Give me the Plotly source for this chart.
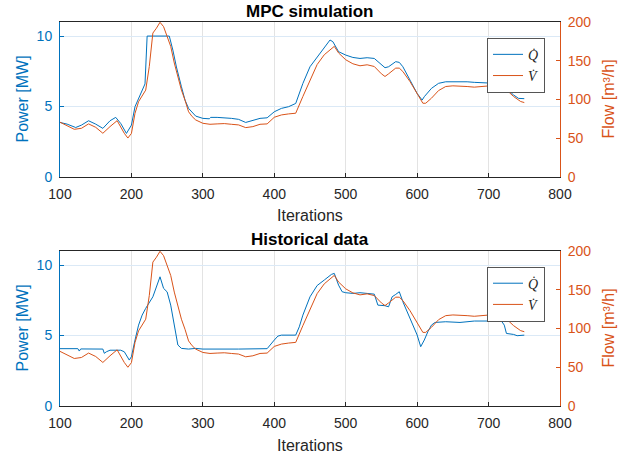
import plotly.graph_objects as go

# ---------------- data ----------------
# MPC simulation: heat power Q-dot [MW]
mpc_x = [100,110,122,130,140,150,160,170,178,185,193,200,205,210,215,219,222,253,258,263,270,275,280,290,300,309,311,320,340,350,360,370,380,390,400,410,420,430,440,450,460,470,478,482,490,500,510,520,530,540,550,555,560,570,575,580,590,600,607,610,620,630,640,650,660,670,680,690,700,710,718,725,735,742,750]
mpc_q = [3.86,3.74,3.5,3.67,3.98,3.74,3.44,3.98,4.22,3.79,3.08,3.67,4.98,5.57,6.04,6.6,10,10,9.0,7.8,6.4,5.45,4.86,4.31,4.15,4.12,4.22,4.22,4.15,4.08,3.86,3.98,4.15,4.19,4.62,4.86,4.98,5.21,6.63,7.82,8.5,9.24,9.72,9.6,8.89,8.65,8.48,8.41,8.46,8.41,7.94,7.75,7.82,8.18,8.13,7.82,6.87,5.92,5.45,5.69,6.28,6.64,6.75,6.75,6.8,6.75,6.71,6.68,6.68,6.64,6.68,6.28,5.81,5.57,5.55]

# Flow V-dot [m3/h] (same in both panels)
flow_x = [100,110,120,130,140,150,160,170,180,190,195,200,205,210,220,225,230,235,240,245,250,255,260,265,270,275,280,285,290,300,310,320,330,340,350,360,370,380,390,400,410,420,430,440,450,460,470,480,484,490,500,510,520,530,540,550,555,560,570,575,580,590,600,608,612,620,630,640,650,660,670,680,690,700,710,718,725,735,745,750]
flow_v = [70.5,65.7,61.3,62.6,68.3,63.9,56.2,64.8,72.5,56.2,50,56,82,97,112,142.5,185.7,192,199.6,194,181,168.5,147,130,112,99,84,77.8,73.4,69.1,67.8,68.3,68.7,67.8,67,63.5,64.8,67.8,68.3,76.9,79.9,81.2,82.1,103.7,125.3,145,157.7,166.3,168.5,160,151.2,146,143.4,144.7,142.5,133,129.6,133,140.4,140.4,136,123,108,95,95,101.5,111.4,116.6,117.5,117.5,116.6,115.8,116.6,116.6,117.5,118.8,112.3,103.7,97.2,95.9]

# Historical data: heat power Q-dot [MW]
hist_x = [100,125,127,129,160,162,165,170,185,190,197,200,205,210,215,220,230,237,240,245,250,255,260,265,270,280,290,300,350,390,400,405,410,430,435,440,450,460,470,480,484,490,495,500,510,520,530,540,545,555,560,565,570,575,580,590,600,605,610,615,620,625,640,660,680,700,718,722,725,735,740,750]
hist_q = [4.07,4.07,3.9,4.05,4.04,3.74,3.85,3.96,3.96,3.85,3.26,3.5,4.68,5.74,6.45,6.93,7.75,8.7,9.17,8.35,8.1,7.16,5.74,4.33,4.09,4.04,4.09,4.04,4.04,4.07,4.68,4.96,5.03,5.03,5.62,6.45,7.75,8.55,8.94,9.34,9.41,8.58,8.11,8.04,7.99,8.04,7.99,7.94,7.16,7.12,7.04,7.75,7.92,8.11,7.4,6.22,5.04,4.21,4.68,5.27,5.74,5.93,5.98,5.93,6.03,6.03,6.03,5.74,5.15,5.08,4.99,5.03]

x_ticks = [100,200,300,400,500,600,700,800]
power_ticks = [0,5,10]
flow_ticks = [0,50,100,150,200]
panel_titles = ["MPC simulation", "Historical data"]
series_names = ["<i>Q\u0307</i>", "<i>V\u0307</i>"]

# ---------------- style ----------------
BLUE = "#0072BD"
ORANGE = "#D95319"
DARK = "#262626"
FONT = "Liberation Sans, Arial, sans-serif"
LW = 1.0

fig = go.Figure()
fig.add_trace(go.Scatter(x=mpc_x, y=mpc_q, mode="lines", name=series_names[0],
                         line=dict(color=BLUE, width=LW), xaxis="x", yaxis="y", legend="legend"))
fig.add_trace(go.Scatter(x=flow_x, y=flow_v, mode="lines", name=series_names[1],
                         line=dict(color=ORANGE, width=LW), xaxis="x", yaxis="y2", legend="legend"))
fig.add_trace(go.Scatter(x=hist_x, y=hist_q, mode="lines", name=series_names[0],
                         line=dict(color=BLUE, width=LW), xaxis="x2", yaxis="y3", legend="legend2"))
fig.add_trace(go.Scatter(x=flow_x, y=flow_v, mode="lines", name=series_names[1],
                         line=dict(color=ORANGE, width=LW), xaxis="x2", yaxis="y4", legend="legend2"))

top_dom = [0.597, 1.0]
bot_dom = [0.0, 0.4036]

def xax(anchor):
    return dict(domain=[0, 1], range=[100, 800], tickvals=x_ticks, anchor=anchor,
                showline=True, linecolor=DARK, linewidth=1, mirror=True,
                ticks="inside", ticklen=4, tickcolor=DARK,
                showgrid=True, gridcolor="#e3e3e3", zeroline=False,
                tickfont=dict(size=14, color=DARK, family=FONT), ticklabelstandoff=4)

def yleft(dom, anchor):
    return dict(domain=dom, range=[0, 11], tickvals=power_ticks, anchor=anchor,
                showline=True, linecolor=BLUE, linewidth=1,
                ticks="inside", ticklen=4, tickcolor=BLUE,
                showgrid=True, gridcolor="#dbe9f6", zeroline=False,
                tickfont=dict(size=14, color=BLUE, family=FONT), ticklabelstandoff=4)

def yright(overlay, anchor):
    return dict(overlaying=overlay, side="right", range=[0, 200], tickvals=flow_ticks, anchor=anchor,
                showline=True, linecolor=ORANGE, linewidth=1,
                ticks="inside", ticklen=4, tickcolor=ORANGE,
                showgrid=False, zeroline=False,
                tickfont=dict(size=14, color=ORANGE, family=FONT), ticklabelstandoff=4)

leg_common = dict(bgcolor="white", bordercolor="#555555", borderwidth=1,
                  font=dict(family="Liberation Serif, Times New Roman, serif", size=14, color=DARK),
                  xanchor="right", yanchor="top", tracegroupgap=0, itemwidth=30)

fig.update_layout(
    width=635, height=456,
    margin=dict(l=60, r=75, t=22, b=50),
    paper_bgcolor="white", plot_bgcolor="white",
    font=dict(family=FONT, color=DARK),
    showlegend=True,
    xaxis=xax("y"), yaxis=yleft(top_dom, "x"), yaxis2=yright("y", "x"),
    xaxis2=xax("y3"), yaxis3=yleft(bot_dom, "x2"), yaxis4=yright("y3", "x2"),
    legend=dict(x=0.97, y=0.959, **leg_common),
    legend2=dict(x=0.97, y=0.363, **leg_common),
)

H = 384.0
def py(p):
    return (406 - p) / H

ann = []
for title, yp in zip(panel_titles, [12, 239]):
    ann.append(dict(text="<b>%s</b>" % title, x=0.5, y=py(yp), xref="paper", yref="paper",
                    showarrow=False, xanchor="center", yanchor="middle",
                    font=dict(size=17, color="black", family=FONT)))
for yp in [216, 445]:
    ann.append(dict(text="Iterations", x=0.5, y=py(yp), xref="paper", yref="paper",
                    showarrow=False, xanchor="center", yanchor="middle",
                    font=dict(size=16, color=DARK, family=FONT)))
for yc in [99.5, 328.5]:
    ann.append(dict(text="Power [MW]", x=(22 - 60) / 500.0, y=py(yc), xref="paper", yref="paper",
                    showarrow=False, xanchor="center", yanchor="middle", textangle=-90,
                    font=dict(size=16, color=BLUE, family=FONT)))
    ann.append(dict(text="Flow [m\u00b3/h]", x=(608 - 60) / 500.0, y=py(yc), xref="paper", yref="paper",
                    showarrow=False, xanchor="center", yanchor="middle", textangle=-90,
                    font=dict(size=16, color=ORANGE, family=FONT)))
fig.update_layout(annotations=ann)

fig.write_html("out.html", config={"displayModeBar": False},
               post_script="document.body.style.margin='0px';")
